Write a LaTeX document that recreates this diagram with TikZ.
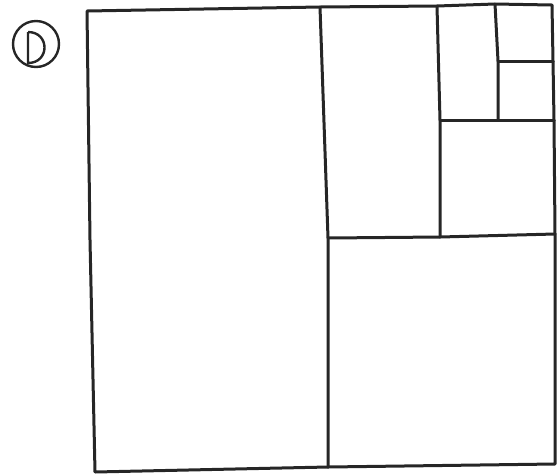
\documentclass[tikz,border=0pt]{standalone}
\begin{document}
\begin{tikzpicture}[x=1pt,y=-1pt,
  edge/.style={line width=3pt,line join=round,line cap=round,black!85},
  sym/.style={line width=2.4pt,black!85}]
\useasboundingbox (0,0) rectangle (557,475);
% corners and junctions
\coordinate (tl) at (87,11);
\coordinate (t1) at (320,7);
\coordinate (t2) at (437,6);
\coordinate (t3) at (495,4);
\coordinate (tr) at (552,5);
\coordinate (r1) at (553,61);
\coordinate (r2) at (554,120);
\coordinate (r3) at (555,234);
\coordinate (br) at (555,464);
\coordinate (b1) at (328,467);
\coordinate (bl) at (95,472);
\coordinate (m1) at (328,238);
\coordinate (m2) at (440,120);
\coordinate (m3) at (498,61);
\coordinate (m2b) at (440,237);
\coordinate (m3b) at (498,120);
% outer square
\draw[edge] (tl) -- (t1) -- (t2) -- (t3) -- (tr) -- (r1) -- (r2) -- (r3) -- (br)
  -- (b1) -- (bl) -- (90,240) -- cycle;
% subdivisions
\draw[edge] (t1) -- (m1) -- (b1);
\draw[edge] (m1) -- (m2b) -- (r3);
\draw[edge] (t2) -- (m2) -- (m2b);
\draw[edge] (m2) -- (m3b) -- (r2);
\draw[edge] (t3) -- (m3) -- (m3b);
\draw[edge] (m3) -- (r1);
% D symbol
\node[sym,draw,circle,minimum size=46pt,inner sep=0pt] (sym) at (36,44) {};
\draw[sym] (28,32) -- (28,63) .. controls (50,63) and (50,32) .. (28,32);
\end{tikzpicture}
\end{document}
